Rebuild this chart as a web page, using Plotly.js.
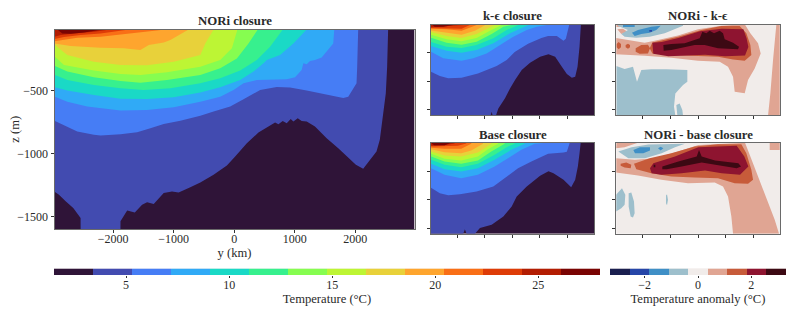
<!DOCTYPE html>
<html>
<head>
<meta charset="utf-8">
<script src="https://cdn.plot.ly/plotly-3.0.1.min.js"></script>
<style>html,body{margin:0;padding:0;background:#fff}#chart{width:793px;height:309px}</style>
</head>
<body>
<div id="chart"></div>
<script>
// ---- colour levels ----
const tempEdges = [1.5,3.39,5.29,7.18,9.07,10.96,12.86,14.75,16.64,18.54,20.43,22.32,24.21,26.11,28];
const tempColors = ['#2f1438','#424bb0','#467df5','#30aaf6','#1ad9c6','#37f08e','#86fd50','#bdf534','#e8d13a','#fea52e','#f96f16','#de3c07','#b31d02','#7a0403'];
const anomEdges = [-3.3,-2.567,-1.833,-1.1,-0.367,0.367,1.1,1.833,2.567,3.3];
const anomColors = ['#1a1f4f','#2646a8','#3f8fc6','#9dbfcc','#f1ecea','#e0a593','#c75b3a','#8e1430','#3c0913'];
const tempTicks = [5,10,15,20,25];
const anomTicks = [-2,0,2];
const yTicks = [-2000,-1000,0,1000,2000];
const zTicks = [-500,-1000,-1500];
const floorY = [-2970,2980];
const floorZ = [-1600,-1600];

// ---- NORi closure: isotherm depth (m) along y (km) ----
const noriT03Y = [-2962,-2896,-2786,-2660,-2539,-2538,-1880,-1879,-1769,-1643,-1522,-1440,-1330,-1165,-1028,-918,-725,-560,-341,-121,16,209,401,539,676,731,802,868,934,978,1050,1115,1198,1335,1528,1720,1857,2011,2132,2242,2352,2407,2462,2506,2528,2539,2545,2980];
const noriT03Z = [-1304,-1325,-1378,-1431,-1511,-1600,-1600,-1537,-1450,-1466,-1405,-1386,-1400,-1312,-1299,-1307,-1265,-1228,-1167,-1093,-1021,-915,-831,-788,-751,-765,-738,-757,-722,-743,-717,-738,-743,-783,-876,-955,-1021,-1087,-1119,-1048,-982,-889,-704,-518,-307,-11,0,0];
const noriT05Y = [-2962,-2786,-2594,-2319,-2209,-1879,-1605,-1385,-1165,-890,-560,-341,-66,154,429,703,923,1198,1528,1802,1885,1967,2022,2033,2044,2050,2980];
const noriT05Z = [-738,-778,-823,-849,-855,-844,-828,-796,-762,-736,-698,-664,-624,-566,-492,-468,-473,-497,-526,-556,-545,-487,-439,-307,-11,0,0];
const noriT07Y = [-2962,-2758,-2429,-1879,-1440,-1000,-560,-231,-11,154,374,868,1006,1115,1143,1198,1253,1335,1445,1555,1637,1654,1660,2980];
const noriT07Z = [-545,-585,-624,-656,-651,-630,-585,-545,-492,-439,-413,-407,-391,-333,-280,-288,-262,-254,-233,-174,-122,-11,0,0];
const noriT09Y = [-2962,-2758,-2319,-1879,-1440,-1000,-560,-231,99,319,484,539,758,978,1198,1205,2980];
const noriT09Z = [-471,-497,-532,-561,-563,-550,-513,-471,-413,-346,-280,-254,-214,-122,-11,0,0];
const noriT11Y = [-2962,-2758,-2319,-1879,-1495,-1055,-560,-231,99,374,593,813,820,2980];
const noriT11Z = [-373,-413,-452,-479,-492,-479,-439,-399,-338,-254,-148,-11,0,0];
const noriT13Y = [-2962,-2758,-2319,-1879,-1550,-1110,-560,-231,44,236,390,396,2980];
const noriT13Z = [-301,-346,-391,-421,-434,-413,-373,-320,-241,-122,-11,0,0];
const noriT15Y = [-2962,-2813,-2319,-1879,-1550,-1110,-560,-231,-38,55,60,2980];
const noriT15Z = [-227,-293,-338,-365,-373,-352,-307,-254,-161,-11,0,0];
const noriT17Y = [-2962,-2758,-2319,-1879,-1440,-1000,-560,-478,-341,-335,2980];
const noriT17Z = [-135,-214,-267,-293,-296,-267,-214,-122,-11,0,0];
const noriT19Y = [-2970,-2703,-2209,-1824,-1550,-1412,-1165,-1055,-753,-745,2980];
const noriT19Z = [-122,-143,-156,-161,-175,-135,-114,-95,-11,0,0];
const noriT20Y = [-2970,-2896,-2594,-2209,-1824,-1385,-1137,-1130,2980];
const noriT20Z = [-105,-100,-77,-69,-48,-29,-11,0,0];
const noriT22Y = [-2970,-2813,-2539,-2209,-1769,-1605,-1600,2980];
const noriT22Z = [-87,-71,-55,-42,-13,-8,0,0];
const noriT24Y = [-2970,-2868,-2648,-2319,-1989,-1980,2980];
const noriT24Z = [-69,-55,-42,-29,-8,0,0];
const noriT26Y = [-2970,-2930,-2923,-2841,-2703,-2484,-2209,-2154,-2150,2980];
const noriT26Z = [0,0,-11,-42,-45,-34,-13,-8,0,0];

// ---- k-epsilon closure ----
const kepsT03Y = [-2970,-793,-756,-720,-598,-512,-268,-85,98,342,647,1013,1318,1562,1806,1989,2172,2294,2379,2452,2501,2505,2980];
const kepsT03Z = [-1600,-1600,-1535,-1600,-1600,-1477,-1301,-1126,-980,-804,-675,-570,-529,-570,-746,-874,-939,-921,-746,-395,-14,0,0];
const kepsT05Y = [-2977,-2647,-2342,-1854,-1257,-573,-207,85,573,1061,1305,1623,1867,1952,2074,2080,2980];
const kepsT05Z = [-834,-909,-950,-939,-863,-734,-629,-488,-342,-242,-207,-207,-289,-254,-14,0,0];
const kepsT07Y = [-2977,-2525,-1854,-1427,-939,-451,37,525,891,1257,1265,2980];
const kepsT07Z = [-482,-599,-640,-599,-512,-365,-219,-102,-44,-14,0,0];
const kepsT09Y = [-2977,-2403,-1854,-1305,-695,-85,586,590,2980];
const kepsT09Z = [-383,-465,-500,-453,-336,-160,-14,0,0];
const kepsT11Y = [-2977,-2403,-1854,-1305,-695,-207,220,225,2980];
const kepsT11Z = [-313,-395,-418,-365,-248,-102,-14,0,0];
const kepsT13Y = [-2977,-2403,-1854,-1305,-756,-329,-24,-20,2980];
const kepsT13Z = [-236,-324,-359,-307,-172,-44,-14,0,0];
const kepsT15Y = [-2977,-2403,-1854,-1305,-817,-329,-325,2980];
const kepsT15Z = [-184,-266,-301,-242,-114,-14,0,0];
const kepsT17Y = [-2977,-2403,-1854,-1305,-878,-598,-595,2980];
const kepsT17Z = [-137,-207,-242,-172,-73,-14,0,0];
const kepsT19Y = [-2977,-2403,-1854,-1366,-939,-935,2980];
const kepsT19Z = [-108,-149,-184,-114,-14,0,0];
const kepsT20Y = [-2977,-2403,-1854,-1610,-1305,-1300,2980];
const kepsT20Z = [-79,-90,-114,-73,-14,0,0];
const kepsT22Y = [-2977,-2403,-1854,-1549,-1545,2980];
const kepsT22Z = [-67,-67,-79,-14,0,0];
const kepsT24Y = [-2977,-2525,-2159,-1793,-1790,2980];
const kepsT24Z = [-55,-44,-32,-14,0,0];
const kepsT26Y = [-2977,-2920,-2916,-2830,-2525,-2159,-2155,2980];
const kepsT26Z = [0,0,-14,-44,-44,-14,0,0];

// ---- Base closure ----
const baseT03Y = [-2970,-1793,-1732,-1671,-1366,-1183,-756,-329,-24,159,525,1013,1318,1501,1867,2147,2294,2391,2452,2489,2495,2980];
const baseT03Z = [-1600,-1600,-1518,-1600,-1600,-1500,-1442,-1296,-1120,-945,-769,-582,-500,-535,-652,-781,-652,-418,-184,-14,0,0];
const baseT05Y = [-2977,-2647,-2342,-1915,-1305,-695,-37,207,695,1305,1867,1989,2086,2090,2980];
const baseT05Z = [-787,-886,-921,-904,-857,-769,-535,-447,-330,-196,-172,-160,-14,0,0];
const baseT07Y = [-2965,-2477,-1867,-1257,-647,-159,329,817,1257,1265,2980];
const baseT07Z = [-447,-564,-623,-564,-418,-272,-125,-20,-8,0,0];
const baseT09Y = [-2965,-2477,-1867,-1257,-647,-37,451,455,2980];
const baseT09Z = [-371,-465,-506,-447,-301,-125,-20,0,0];
const baseT11Y = [-2965,-2477,-1867,-1257,-647,-159,85,90,2980];
const baseT11Z = [-301,-389,-430,-371,-213,-67,-20,0,0];
const baseT13Y = [-2965,-2477,-1867,-1257,-769,-281,-275,2980];
const baseT13Z = [-242,-330,-371,-313,-155,-20,0,0];
const baseT15Y = [-2965,-2477,-1867,-1257,-891,-525,-520,2980];
const baseT15Z = [-196,-283,-313,-242,-114,-20,0,0];
const baseT17Y = [-2965,-2477,-1867,-1257,-1013,-769,-765,2980];
const baseT17Z = [-155,-225,-242,-172,-96,-20,0,0];
const baseT19Y = [-2965,-2477,-1867,-1501,-1074,-1070,2980];
const baseT19Z = [-114,-167,-184,-137,-20,0,0];
const baseT20Y = [-2965,-2477,-1867,-1501,-1495,2980];
const baseT20Z = [-90,-108,-108,-20,0,0];
const baseT22Y = [-2965,-2477,-1989,-1684,-1680,2980];
const baseT22Z = [-67,-67,-55,-14,0,0];
const baseT24Y = [-2965,-2477,-2111,-2105,2980];
const baseT24Z = [-55,-44,-14,0,0];
const baseT26Y = [-2970,-2945,-2940,-2843,-2477,-2233,-2228,2980];
const baseT26Z = [0,0,-20,-44,-44,-14,0,0];

// ---- NORi - k-epsilon anomaly: band outlines (separated by null) ----
const nkSalmonY = [-2982,-2424,-1939,-1576,-727,0,848,1697,1903,2182,2279,2060,1818,1697,1333,1273,1091,788,0,-970,-1939,-2982,null,-2933,-2727,-2545,-2788,null,-2970,-2667,-2667,-2970,null,2848,2970,2970,2545,2630,2727];
const nkSalmonZ = [-242,-283,-324,-289,-196,-90,-26,0,-160,-336,-512,-775,-980,-1213,-1184,-921,-746,-658,-640,-588,-552,-529,null,-90,-79,-137,-172,null,0,0,-44,-50,null,0,0,-1600,-1600,-1213,-628];
const nkOrangeY = [-2885,-2800,-2800,-2885,-2957,-2957,null,-2545,-2472,-2472,-2545,-2630,-2630,null,-2266,-2060,-1818,-1745,-1818,-2121,-2266,null,-1660,-727,121,848,1515,1757,1903,1939,1697,1273,727,-121,-970,-1660,-1757];
const nkOrangeZ = [-313,-348,-406,-441,-406,-348,null,-342,-365,-406,-430,-406,-365,null,-424,-365,-360,-424,-512,-518,-482,null,-319,-219,-102,-32,-32,-160,-365,-541,-640,-617,-570,-552,-541,-512,-424];
const nkCrimsonY = [-1660,-1321,-715,73,861,1648,1770,1830,1709,982,255,-473,-1079,-1624];
const nkCrimsonZ = [-324,-313,-242,-125,-79,-90,-254,-400,-547,-564,-535,-547,-564,-517];
const nkDarkY = [-1260,-970,-485,-121,61,158,303,424,582,788,909,970,1273,1491,1454,727,242,-121,-485,-970,-1248];
const nkDarkZ = [-365,-348,-336,-278,-248,-131,-160,-114,-160,-114,-160,-266,-324,-395,-441,-424,-365,-365,-406,-453,-465];
const nkPaleY = [-2788,-2545,-2788,-2909,-2909,-545,-545,-788,-1212,-1757,-2242,-2667,null,-2970,-2667,-2363,-2218,-2060,-1697,-1151,-388,-388,-545,-824,-873,-824,-2970,null,-788,-667,-570,-545,-751];
const nkPaleZ = [-172,-102,-55,-32,0,0,-26,-73,-160,-219,-236,-219,null,-734,-786,-746,-1009,-804,-792,-792,-804,-1009,-1067,-1214,-1448,-1600,-1600,null,-1418,-1389,-1506,-1600,-1600];
const nkMidBlueY = [-2400,-2182,-1697,-1357,-1515,-1757,-2060,-2303,null,-2727,-2303,-2303,-2727];
const nkMidBlueZ = [-149,-102,-44,-26,-102,-149,-172,-207,null,0,0,-50,-50];
const nkDeepBlueY = [-1770,-1673,-1673,-1770];
const nkDeepBlueZ = [-102,-102,-131,-131];

// ---- NORi - base closure anomaly ----
const nbSalmonY = [-2982,-2291,-1563,-715,12,861,1709,1903,2182,2363,2545,2788,2945,1273,1212,1091,909,606,-364,-1333,-2182,-2982,null,-2970,-2182,-2667,-2982,null,2606,2970,2970,2606];
const nbSalmonZ = [-272,-301,-272,-155,-38,-20,0,-243,-594,-828,-1062,-1354,-1600,-1600,-1296,-945,-769,-699,-711,-652,-576,-524,null,0,0,-79,-96,null,0,0,-126,-126];
const nbOrangeY = [-2812,-2606,-2424,-2448,-2667,-2812,null,-2327,-2000,-1757,-970,-121,727,1576,1757,1939,2000,1818,1333,727,-121,-970,-1697,-2242];
const nbOrangeZ = [-371,-348,-389,-447,-436,-406,null,-371,-313,-272,-184,-67,-26,-26,-184,-477,-652,-722,-711,-623,-611,-594,-535,-465];
const nbCrimsonY = [-1745,-1624,-836,12,1406,1685,1830,1527,861,255,-594,-1321,-1685];
const nbCrimsonZ = [-447,-360,-243,-79,-55,-243,-418,-564,-535,-488,-535,-564,-535];
const nbDarkY = [-1297,-715,-48,36,133,618,1467,1564,1406,618,133,-594,-1139,-1297,null,-1612,-1551,-1551,-1612];
const nbDarkZ = [-418,-330,-243,-126,-243,-313,-360,-418,-447,-389,-348,-418,-465,-465,null,-389,-389,-430,-430];
const nbPaleY = [-2897,-2412,-1806,-473,-836,-1321,-1927,-2533,null,-2982,-2982,-2763,-2642,-2667,-2788,null,-2521,-2424,-2327,-2303,-2363,-2448,-2521,null,-1164,-1127,-1091,-1127,-1164];
const nbPaleZ = [-155,-79,-32,-20,-79,-184,-272,-272,null,-1208,-915,-798,-915,-1091,-1149,null,-886,-875,-1032,-1237,-1313,-1296,-1120,null,-927,-904,-1003,-1097,-1062];
const nbMidBlueY = [-2351,-2109,-1745,-1745,-1988,-2291,null,-1454,-1357,-1260,-1357];
const nbMidBlueZ = [-126,-79,-79,-137,-184,-184,null,-96,-73,-96,-137];

// ---- text ----
const FONT = 'Liberation Serif, serif';
const TICK = 12, LABEL = 12.6, HEAD = 12.8, INK = '#2a2a2a';
const W = 793, H = 309;
const isoNori = [[noriT03Y,noriT03Z],[noriT05Y,noriT05Z],[noriT07Y,noriT07Z],[noriT09Y,noriT09Z],[noriT11Y,noriT11Z],[noriT13Y,noriT13Z],[noriT15Y,noriT15Z],[noriT17Y,noriT17Z],[noriT19Y,noriT19Z],[noriT20Y,noriT20Z],[noriT22Y,noriT22Z],[noriT24Y,noriT24Z],[noriT26Y,noriT26Z]];
const isoKeps = [[kepsT03Y,kepsT03Z],[kepsT05Y,kepsT05Z],[kepsT07Y,kepsT07Z],[kepsT09Y,kepsT09Z],[kepsT11Y,kepsT11Z],[kepsT13Y,kepsT13Z],[kepsT15Y,kepsT15Z],[kepsT17Y,kepsT17Z],[kepsT19Y,kepsT19Z],[kepsT20Y,kepsT20Z],[kepsT22Y,kepsT22Z],[kepsT24Y,kepsT24Z],[kepsT26Y,kepsT26Z]];
const isoBase = [[baseT03Y,baseT03Z],[baseT05Y,baseT05Z],[baseT07Y,baseT07Z],[baseT09Y,baseT09Z],[baseT11Y,baseT11Z],[baseT13Y,baseT13Z],[baseT15Y,baseT15Z],[baseT17Y,baseT17Z],[baseT19Y,baseT19Z],[baseT20Y,baseT20Z],[baseT22Y,baseT22Z],[baseT24Y,baseT24Z],[baseT26Y,baseT26Z]];

const data = [];
function tempPanel(iso, xa, ya){
  data.push({type:'scatter',x:floorY,y:floorZ,mode:'lines',line:{width:0},fill:'tozeroy',fillcolor:tempColors[0],xaxis:xa,yaxis:ya,hoverinfo:'skip'});
  iso.forEach((p,i)=>data.push({type:'scatter',x:p[0],y:p[1],mode:'lines',line:{width:0},fill:'tozeroy',fillcolor:tempColors[i+1],xaxis:xa,yaxis:ya,hoverinfo:'skip'}));
}
function anomBand(x,y,color,xa,ya){
  data.push({type:'scatter',x:x,y:y,mode:'lines',line:{width:0},fill:'toself',fillcolor:color,xaxis:xa,yaxis:ya,hoverinfo:'skip'});
}
tempPanel(isoNori,'x','y');
tempPanel(isoKeps,'x2','y2');
tempPanel(isoBase,'x3','y3');
anomBand(nkSalmonY,nkSalmonZ,anomColors[5],'x4','y4');
anomBand(nkOrangeY,nkOrangeZ,anomColors[6],'x4','y4');
anomBand(nkCrimsonY,nkCrimsonZ,anomColors[7],'x4','y4');
anomBand(nkDarkY,nkDarkZ,anomColors[8],'x4','y4');
anomBand(nkPaleY,nkPaleZ,anomColors[3],'x4','y4');
anomBand(nkMidBlueY,nkMidBlueZ,anomColors[2],'x4','y4');
anomBand(nkDeepBlueY,nkDeepBlueZ,anomColors[1],'x4','y4');
anomBand(nbSalmonY,nbSalmonZ,anomColors[5],'x5','y5');
anomBand(nbOrangeY,nbOrangeZ,anomColors[6],'x5','y5');
anomBand(nbCrimsonY,nbCrimsonZ,anomColors[7],'x5','y5');
anomBand(nbDarkY,nbDarkZ,anomColors[8],'x5','y5');
anomBand(nbPaleY,nbPaleZ,anomColors[3],'x5','y5');
anomBand(nbMidBlueY,nbMidBlueZ,anomColors[2],'x5','y5');

data.push({type:'heatmap',x:tempEdges,y:[0,1],z:[tempColors.map((c,i)=>i)],zmin:0,zmax:tempColors.length-1,colorscale:tempColors.map((c,i)=>[i/(tempColors.length-1),c]),showscale:false,xaxis:'x6',yaxis:'y6',hoverinfo:'skip'});
data.push({type:'heatmap',x:anomEdges,y:[0,1],z:[anomColors.map((c,i)=>i)],zmin:0,zmax:anomColors.length-1,colorscale:anomColors.map((c,i)=>[i/(anomColors.length-1),c]),showscale:false,xaxis:'x7',yaxis:'y7',hoverinfo:'skip'});

const SP = '#6a6a6a';
function dx(a,b){return [a/W,b/W];}
function dy(t,b){return [1-b/H,1-t/H];}
function xAxis(a,b,anchor,labels,title){
  return {domain:dx(a,b),anchor:anchor,range:[-2970,2980],tickvals:yTicks,showticklabels:labels,ticklabelstandoff:-4,ticks:'outside',ticklen:3,tickwidth:1,tickcolor:'#333',
    showgrid:false,zeroline:false,showline:true,mirror:true,linecolor:SP,linewidth:1,tickfont:{family:FONT,size:TICK,color:INK},
    title:title?{text:title,font:{family:FONT,size:LABEL,color:INK},standoff:0}:undefined};
}
function yAxis(t,b,anchor,labels,title,top){
  return {domain:dy(t,b),anchor:anchor,range:[-1598,top],tickvals:zTicks,showticklabels:labels,ticks:'outside',ticklen:3,tickwidth:1,tickcolor:'#333',
    showgrid:false,zeroline:false,showline:true,mirror:true,linecolor:SP,linewidth:1,tickfont:{family:FONT,size:TICK,color:INK},
    title:title?{text:title,font:{family:FONT,size:LABEL,color:INK},standoff:-4}:undefined};
}
function barX(a,b,anchor,r,vals,title){
  return {domain:dx(a,b),anchor:anchor,range:r,tickvals:vals,ticklabelstandoff:-3,ticks:'outside',ticklen:2,tickwidth:1,tickcolor:'#333',showgrid:false,zeroline:false,showline:false,
    tickfont:{family:FONT,size:TICK,color:INK},title:{text:title,font:{family:FONT,size:LABEL,color:INK},standoff:0}};
}
function barY(t,b,anchor){return {domain:dy(t,b),anchor:anchor,range:[0,1],visible:false};}
function note(text,xpx,ypx){
  return {text:text,xref:'paper',yref:'paper',x:xpx/W,y:1-ypx/H,showarrow:false,xanchor:'center',yanchor:'middle',font:{family:FONT,size:HEAD,color:INK}};
}

const layout = {
  width:W,height:H,margin:{l:0,r:0,t:0,b:0},paper_bgcolor:'#fff',plot_bgcolor:anomColors[4],showlegend:false,
  xaxis:xAxis(54.5,414.5,'y',true,'y (km)'),
  yaxis:yAxis(29.5,229,'x',true,'z (m)',-11),
  xaxis2:xAxis(431,594,'y2',false),
  yaxis2:yAxis(25,115.3,'x2',false,null,-14),
  xaxis3:xAxis(431,594,'y3',false),
  yaxis3:yAxis(143,233.7,'x3',false,null,-5),
  xaxis4:xAxis(616.3,780,'y4',false),
  yaxis4:yAxis(25,115.3,'x4',false,null,-14),
  xaxis5:xAxis(616.3,780,'y5',false),
  yaxis5:yAxis(143,233.7,'x5',false,null,-5),
  xaxis6:barX(54,600,'y6',[1.5,28],tempTicks,'Temperature (°C)'),
  yaxis6:barY(268.5,275,'x6'),
  xaxis7:barX(610,786,'y7',[-3.3,3.3],anomTicks,'Temperature anomaly (°C)'),
  yaxis7:barY(268.5,275,'x7'),
  annotations:[
    note('<b>NORi closure</b>',234.5,21),
    note('<b>k-ϵ closure</b>',512.5,16.5),
    note('<b>Base closure</b>',512.5,134.5),
    note('<b>NORi - k-ϵ</b>',698,16.5),
    note('<b>NORi - base closure</b>',698,134.5)
  ]
};
Plotly.newPlot('chart',data,layout,{staticPlot:true,displayModeBar:false});
</script>
</body>
</html>
